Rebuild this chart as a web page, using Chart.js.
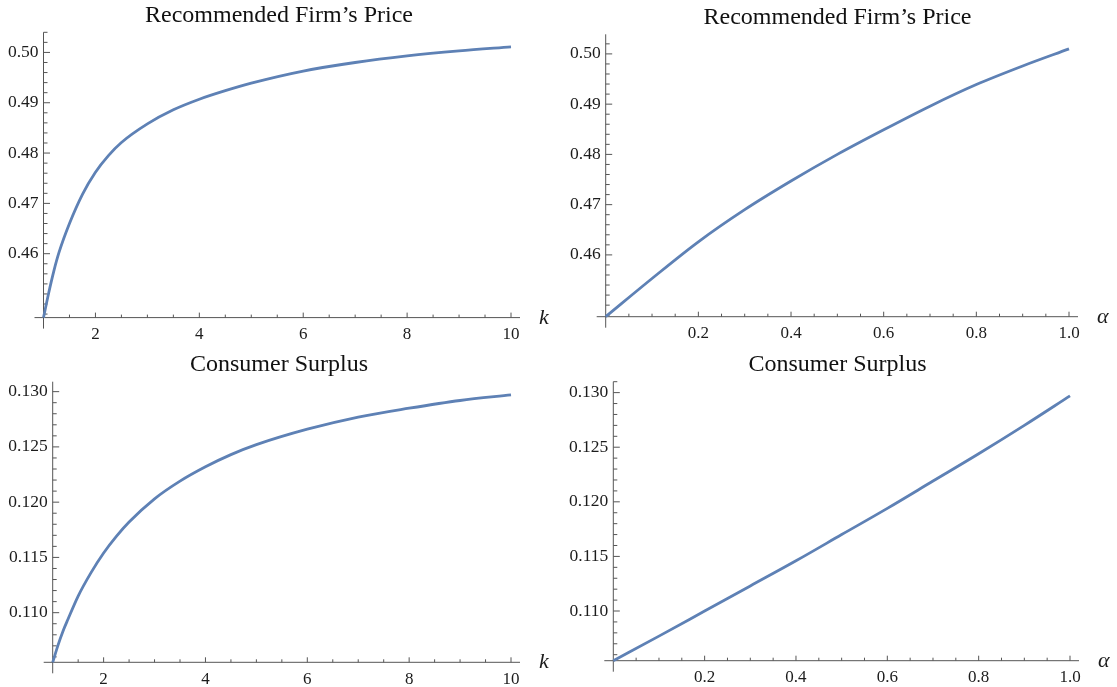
<!DOCTYPE html>
<html>
<head>
<meta charset="utf-8">
<script src="https://cdn.jsdelivr.net/npm/chart.js@4.4.0/dist/chart.umd.min.js"></script>
<style>
  html, body { margin: 0; padding: 0; background: #fff; }
  #wrap { position: relative; width: 1117px; height: 687px; overflow: hidden; }
  canvas { position: absolute; }
</style>
</head>
<body>
<div id="wrap">
  <canvas id="priceK" width="558" height="343" style="left:0px;top:0px"></canvas>
  <canvas id="priceA" width="559" height="343" style="left:558px;top:0px"></canvas>
  <canvas id="surplusK" width="558" height="344" style="left:0px;top:343px"></canvas>
  <canvas id="surplusA" width="559" height="344" style="left:558px;top:343px"></canvas>
</div>
<script>
// values
const kValues = [1, 1.1, 1.2, 1.3, 1.5, 1.75, 2, 2.25, 2.5, 3, 3.5, 4, 4.5, 5, 6, 7, 8, 9, 10];
const priceByK = [0.4473, 0.4522, 0.4566, 0.4603, 0.4660, 0.4718, 0.4762, 0.4795, 0.4821, 0.4858,
  0.4886, 0.4907, 0.4924, 0.4939, 0.4963, 0.4980, 0.4993, 0.5003, 0.5011];
const surplusByK = [0.1055, 0.1070, 0.1083, 0.1094, 0.1115, 0.1136, 0.1154, 0.1169, 0.1182, 0.1203,
  0.1219, 0.1232, 0.1243, 0.1252, 0.1266, 0.1277, 0.1285, 0.1292, 0.1297];

const alphaValues = [0, 0.1, 0.2, 0.3, 0.4, 0.5, 0.6, 0.7, 0.8, 0.9, 1.0];
const priceByAlpha = [0.4477, 0.4553, 0.4626, 0.4690, 0.4747, 0.4800, 0.4849, 0.4896, 0.4939, 0.4976, 0.5010];
const surplusByAlpha = [0.10545, 0.1077, 0.1100, 0.1123, 0.1146, 0.1170, 0.1194, 0.1219, 0.1244, 0.1270, 0.1297];

const kTicks = [2, 4, 6, 8, 10];
const alphaTicks = [0.2, 0.4, 0.6, 0.8, 1.0];
const priceTicks = [0.46, 0.47, 0.48, 0.49, 0.50];
const surplusTicks = [0.110, 0.115, 0.120, 0.125, 0.130];

const priceTitle = "Recommended Firm’s Price";
const surplusTitle = "Consumer Surplus";

const SERIF = '"Liberation Serif", "Times New Roman", serif';
const LINE = '#5e81b5';
const AXIS = '#555555';
const TEXT = '#1c1c1c';

// mathematica-like axes: lines through the origin, ticks pointing inward
function axesPlugin(cfg) {
  return {
    id: 'mmaAxes',
    beforeDatasetsDraw(chart) {
      const ctx = chart.ctx;
      const xs = chart.scales.x, ys = chart.scales.y;
      const ox = xs.getPixelForValue(cfg.xMin);
      const oy = ys.getPixelForValue(cfg.yMin);
      ctx.save();
      ctx.strokeStyle = AXIS;
      ctx.lineWidth = 1;
      ctx.beginPath();
      ctx.moveTo(xs.left - 9, oy);
      ctx.lineTo(xs.right + 9, oy);
      ctx.moveTo(ox, ys.top);
      ctx.lineTo(ox, ys.bottom + 11);
      // x ticks
      for (let v = cfg.xMin + cfg.xMinor; v <= cfg.xMax + 1e-9; v += cfg.xMinor) {
        const major = cfg.xTicks.some(t => Math.abs(t - v) < 1e-9);
        const px = xs.getPixelForValue(v);
        ctx.moveTo(px, oy);
        ctx.lineTo(px, oy - (major ? 5 : 3));
      }
      // y ticks
      const start = Math.ceil((cfg.yMin + 1e-9) / cfg.yMinor) * cfg.yMinor;
      for (let v = start; v <= cfg.yMax + 1e-9; v += cfg.yMinor) {
        const major = cfg.yTicks.some(t => Math.abs(t - v) < 1e-9);
        const py = ys.getPixelForValue(v);
        ctx.moveTo(ox, py);
        ctx.lineTo(ox + (major ? 6.5 : 4), py);
      }
      ctx.stroke();
      // axis name
      ctx.fillStyle = TEXT;
      ctx.font = 'italic 22px ' + SERIF;
      ctx.textAlign = 'left';
      ctx.textBaseline = 'alphabetic';
      ctx.fillText(cfg.axisName, xs.right + 28, oy + 6);
      ctx.restore();
    }
  };
}

function makePlot(cfg) {
  const pts = cfg.xs.map((x, i) => ({ x: x, y: cfg.ys[i] }));
  return new Chart(document.getElementById(cfg.id), {
    type: 'line',
    data: {
      datasets: [{
        data: pts,
        borderColor: LINE,
        borderWidth: 2.8,
        pointRadius: 0,
        fill: false,
        clip: false,
        cubicInterpolationMode: 'monotone'
      }]
    },
    options: {
      responsive: false,
      animation: false,
      events: [],
      layout: { padding: 0 },
      plugins: {
        legend: { display: false },
        tooltip: { enabled: false },
        title: {
          display: true,
          text: cfg.title,
          color: '#111',
          font: { family: SERIF, size: 24, weight: 'normal' },
          padding: { top: cfg.titleTop, bottom: cfg.titleBottom }
        }
      },
      scales: {
        x: {
          type: 'linear',
          min: cfg.xMin,
          max: cfg.xMax,
          grid: { display: false, drawTicks: false },
          border: { display: false },
          afterBuildTicks: s => { s.ticks = cfg.xTicks.map(v => ({ value: v })); },
          // room on the right for the axis name, title stays centred on the canvas
          afterFit: s => { s.height = cfg.xHeight; s.paddingRight = cfg.padRight; },
          ticks: {
            padding: 6.7,
            color: TEXT,
            autoSkip: false,
            maxRotation: 0,
            font: { family: SERIF, size: 17 },
            callback: v => cfg.xFmt(v)
          }
        },
        y: {
          type: 'linear',
          min: cfg.yMin,
          max: cfg.yMax,
          grid: { display: false, drawTicks: false },
          border: { display: false },
          afterBuildTicks: s => { s.ticks = cfg.yTicks.map(v => ({ value: v })); },
          afterFit: s => { s.width = cfg.yWidth; },
          ticks: {
            padding: 5,
            color: TEXT,
            autoSkip: false,
            font: { family: SERIF, size: 17.5 },
            callback: v => v.toFixed(cfg.yDigits)
          }
        }
      }
    },
    plugins: [axesPlugin(cfg)]
  });
}

const intFmt = v => String(Math.round(v));
const oneDec = v => v.toFixed(1);

makePlot({
  id: 'priceK', title: priceTitle, xs: kValues, ys: priceByK, axisName: 'k',
  xMin: 1, xMax: 10, yMin: 0.4473, yMax: 0.5040,
  xTicks: kTicks, yTicks: priceTicks, xMinor: 0.5, yMinor: 0.002, yDigits: 2, xFmt: intFmt,
  yWidth: 43.5, padRight: 47, xHeight: 25.4, titleTop: 1.2, titleBottom: 2.3
});
makePlot({
  id: 'priceA', title: priceTitle, xs: alphaValues, ys: priceByAlpha, axisName: 'α',
  xMin: 0, xMax: 1, yMin: 0.4477, yMax: 0.5039,
  xTicks: alphaTicks, yTicks: priceTicks, xMinor: 0.05, yMinor: 0.002, yDigits: 2, xFmt: oneDec,
  yWidth: 47.7, padRight: 48, xHeight: 26.3, titleTop: 3, titleBottom: 2.5
});
makePlot({
  id: 'surplusK', title: surplusTitle, xs: kValues, ys: surplusByK, axisName: 'k',
  xMin: 1, xMax: 10, yMin: 0.10551, yMax: 0.1309,
  xTicks: kTicks, yTicks: surplusTicks, xMinor: 0.5, yMinor: 0.001, yDigits: 3, xFmt: intFmt,
  yWidth: 52.7, padRight: 47, xHeight: 24.7, titleTop: 7.6, titleBottom: 2.3
});
makePlot({
  id: 'surplusA', title: surplusTitle, xs: alphaValues, ys: surplusByAlpha, axisName: 'α',
  xMin: 0, xMax: 1, yMin: 0.10545, yMax: 0.1310,
  xTicks: alphaTicks, yTicks: surplusTicks, xMinor: 0.05, yMinor: 0.001, yDigits: 3, xFmt: oneDec,
  yWidth: 55.3, padRight: 47, xHeight: 26.3, titleTop: 7.6, titleBottom: 2.3
});
</script>
</body>
</html>
